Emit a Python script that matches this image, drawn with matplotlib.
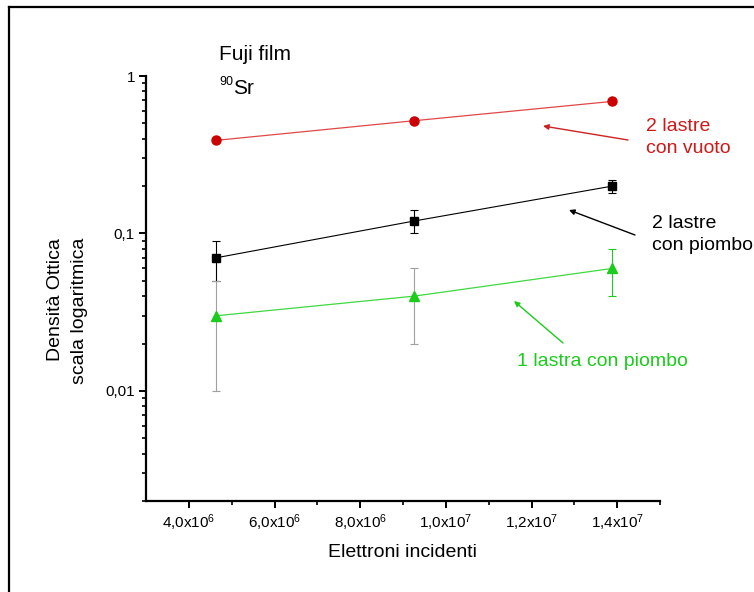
import matplotlib
matplotlib.use("Agg")
import matplotlib.pyplot as plt
from matplotlib.lines import Line2D
from matplotlib.ticker import FixedLocator, LogLocator, NullFormatter

plt.rcParams["font.family"] = ["Liberation Sans", "DejaVu Sans"]
plt.rcParams["mathtext.default"] = "regular"

# ---------------------------------------------------------------------------
# dati
# ---------------------------------------------------------------------------
ELETTRONI = [4.63e6, 9.26e6, 1.389e7]

VUOTO_2 = [0.39, 0.52, 0.69]

PIOMBO_2 = [0.07, 0.12, 0.20]
PIOMBO_2_ERR = [0.02, 0.02, 0.02]

PIOMBO_1 = [0.03, 0.04, 0.06]
PIOMBO_1_ERR = [0.02, 0.02, 0.02]

X_TICKS = [4e6, 6e6, 8e6, 1.0e7, 1.2e7, 1.4e7]
X_TICK_LABELS = [r"4,0x10$^6$", r"6,0x10$^6$", r"8,0x10$^6$",
                 r"1,0x10$^7$", r"1,2x10$^7$", r"1,4x10$^7$"]
Y_TICKS = [0.01, 0.1, 1]
Y_TICK_LABELS = ["0,01", "0,1", "1"]

W, H = 754, 592

RED = "#d01818"
GREEN = "#1ccc1c"


def px(x, y):
    """pixel immagine (origine in alto a sinistra) -> frazione figura"""
    return x / W, 1 - y / H


def main():
    fig = plt.figure(figsize=(W / 100, H / 100), dpi=100)
    l, b = px(146, 501)
    ax = fig.add_axes([l, b, 514 / W, 425 / H])

    ax.set_yscale("log")
    ax.set_xlim(3e6, 1.5e7)
    ax.set_ylim(0.002, 1)

    # 2 lastre con vuoto
    ax.plot(ELETTRONI, VUOTO_2, "-", color="#e04848", lw=0.9)
    ax.plot(ELETTRONI, VUOTO_2, "o", color="#cc0000", ms=6.5, mec="#cc0000")

    # 2 lastre con piombo
    ax.errorbar(ELETTRONI, PIOMBO_2, yerr=PIOMBO_2_ERR, fmt="s-", color="black",
                lw=0.8, ms=6, elinewidth=0.8, capsize=3, capthick=0.8)

    # 1 lastra con piombo: barre grigie sui primi due punti, verde sull'ultimo
    ax.errorbar(ELETTRONI[:2], PIOMBO_1[:2], yerr=PIOMBO_1_ERR[:2], fmt="none",
                ecolor="#a0a0a0", elinewidth=0.8, capsize=3, capthick=0.8)
    ax.errorbar(ELETTRONI[2:], PIOMBO_1[2:], yerr=PIOMBO_1_ERR[2:], fmt="none",
                ecolor=GREEN, elinewidth=0.8, capsize=3, capthick=0.8)
    ax.plot(ELETTRONI, PIOMBO_1, "-", color="#40d840", lw=0.9)
    ax.plot(ELETTRONI, PIOMBO_1, "^", color=GREEN, ms=7.5)

    # assi stile Origin
    for s in ("top", "right"):
        ax.spines[s].set_visible(False)
    for s in ("left", "bottom"):
        ax.spines[s].set_linewidth(1.6)

    ax.xaxis.set_major_locator(FixedLocator(X_TICKS))
    ax.set_xticklabels(X_TICK_LABELS)
    ax.xaxis.set_minor_locator(FixedLocator([5e6, 7e6, 9e6, 1.1e7, 1.3e7, 1.5e7]))
    ax.yaxis.set_major_locator(FixedLocator(Y_TICKS))
    ax.set_yticklabels(Y_TICK_LABELS)
    ax.yaxis.set_minor_locator(LogLocator(base=10, subs=range(2, 10)))
    ax.yaxis.set_minor_formatter(NullFormatter())
    ax.tick_params(which="major", direction="out", length=5, width=1.4,
                   labelsize=11, pad=3)
    ax.tick_params(which="minor", direction="out", length=3, width=1.2)

    ax.set_xlabel("Elettroni incidenti", fontsize=14, labelpad=8)
    fig.text(*px(67.5, 311), "Densità Ottica\nscala logaritmica", fontsize=14,
             rotation=90, ha="center", va="center", multialignment="right",
             linespacing=1.5)

    # testi
    fig.text(*px(219, 55), "Fuji film", fontsize=15, ha="left", va="center")
    fig.text(*px(219, 82), "90", fontsize=9, ha="left", va="center")
    fig.text(*px(233, 89), "Sr", fontsize=15, ha="left", va="center")

    fig.text(*px(646, 137.5), "2 lastre\ncon vuoto", color=RED, fontsize=14,
             ha="left", va="center", linespacing=1.35)
    fig.text(*px(652, 234.5), "2 lastre\ncon piombo", color="black", fontsize=14,
             ha="left", va="center", linespacing=1.35)
    fig.text(*px(517, 362), "1 lastra con piombo", color=GREEN, fontsize=14,
             ha="left", va="center")

    frecce = [
        ((628, 140), (543, 126), "#cc2222"),
        ((635, 235), (569, 210), "black"),
        ((563, 343), (514, 301), GREEN),
    ]
    for coda, testa, col in frecce:
        ax.annotate("", xy=px(*testa), xycoords="figure fraction",
                    xytext=px(*coda), textcoords="figure fraction",
                    arrowprops=dict(arrowstyle="-|>", color=col, lw=1.0,
                                    mutation_scale=8, shrinkA=0, shrinkB=0))

    # cornice sinistra e superiore
    x0, y0 = px(9, 7)
    fig.add_artist(Line2D([x0, x0], [0, y0], color="black", lw=1.6))
    fig.add_artist(Line2D([x0, 1], [y0, y0], color="black", lw=1.6))

    fig.savefig("out.png", dpi=100)


if __name__ == "__main__":
    main()
